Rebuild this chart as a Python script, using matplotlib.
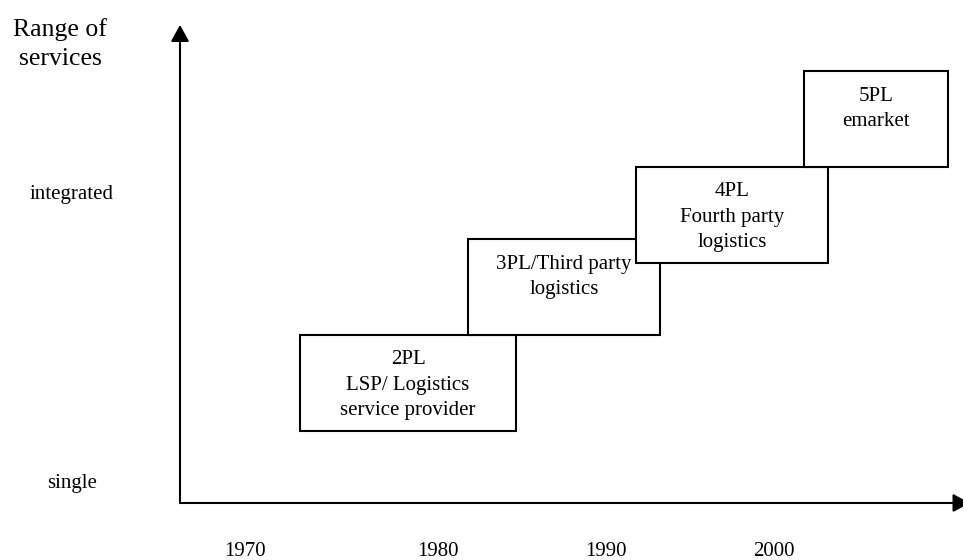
import matplotlib
matplotlib.use("Agg")
from matplotlib import pyplot as plt
from matplotlib.patches import Rectangle

plt.rcParams['font.family'] = ['Liberation Serif', 'DejaVu Serif']

# data (timeline units on x, service-range units on y)
providers = ['2PL\nLSP/ Logistics\nservice provider',
             '3PL/Third party\nlogistics',
             '4PL\nFourth party\nlogistics',
             '5PL\nemarket']
start = [5, 12, 19, 26]
end = [14, 20, 27, 32]
low = [3, 7, 10, 14]
high = [7, 11, 14, 18]

years = ['1970', '1980', '1990', '2000']
levels = ['single', 'integrated']
y_title = 'Range of\nservices'

# layout
year_x = [2.7, 10.75, 17.75, 24.75]
level_y = [0.625, 12.67]
line_step = 25 / 24  # one text line in y units

fig = plt.figure(figsize=(9.63, 5.6), dpi=100)
ax = fig.add_axes([0, 0, 1, 1])
ax.set_xlim(-7.5, 32.625)
ax.set_ylim(-2.375, 20.958)
ax.axis('off')

arrow = dict(arrowstyle='-|>,head_length=0.4,head_width=0.22', lw=1.5,
             color='black', mutation_scale=25, shrinkA=0, shrinkB=0)
ax.annotate('', xy=(0, 19.92), xytext=(0, 0), arrowprops=arrow,
            annotation_clip=False)
ax.annotate('', xy=(32.9, 0), xytext=(0, 0), arrowprops=arrow,
            annotation_clip=False)

for i, lab in enumerate(providers):
    r = Rectangle((start[i], low[i]), end[i] - start[i], high[i] - low[i],
                  facecolor='white', edgecolor='black', lw=1.5, zorder=2 + i)
    ax.add_patch(r)
    # va='baseline' sits on the last line, so step down from the first one
    y = high[i] - 1.27 - lab.count('\n') * line_step
    ax.text((start[i] + end[i]) / 2, y, lab, ha='center',
            va='baseline', fontsize=15, linespacing=1.48, zorder=2 + i)

ax.text(-5.0, 18.25, y_title, ha='center', va='baseline', fontsize=18.5,
        linespacing=1.44)
for lab, y in zip(levels, level_y):
    ax.text(-4.5, y, lab, ha='center', va='baseline', fontsize=15)
for lab, x in zip(years, year_x):
    ax.text(x, -2.2, lab, ha='center', va='baseline', fontsize=15)

fig.savefig('out.png', dpi=100)
